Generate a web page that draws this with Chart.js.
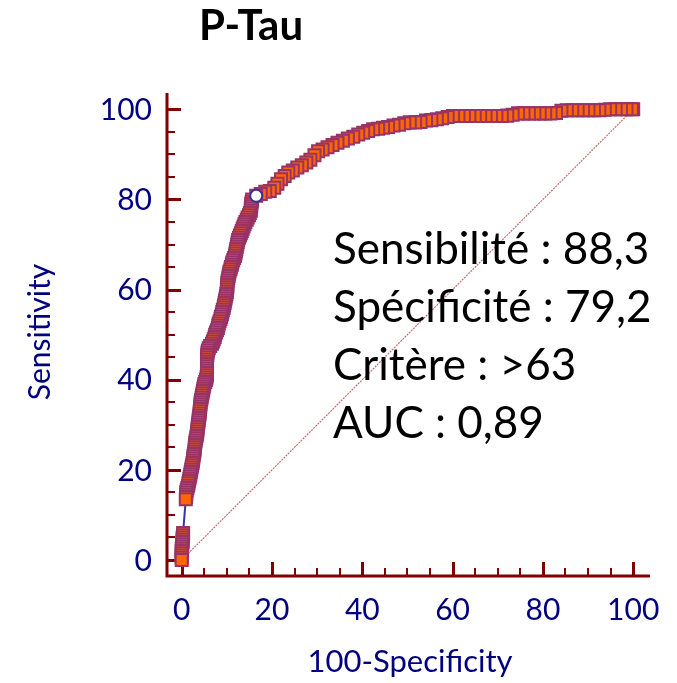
<!DOCTYPE html>
<html>
<head>
<meta charset="utf-8">
<script src="https://cdn.jsdelivr.net/npm/chart.js@4/dist/chart.umd.min.js"></script>
<style>
  html, body { margin: 0; padding: 0; background: #fff; }
  #wrap { width: 677px; height: 683px; position: relative; }
</style>
</head>
<body>
<div id="wrap"><canvas id="roc" width="677" height="683"></canvas></div>
<script>
// Courbe ROC : 100-Spécificité (x) et Sensibilité (y)
const fpr = [
    0, 0, 0, 0, 0, 0, 0.1, 0.1, 0.2, 0.2, 0.2, 0.3, 0.3,
    0.9, 0.95, 1.0, 1.0, 1.1, 1.25, 1.4, 1.5, 1.6, 1.7, 1.8, 1.9,
    2.0, 2.1, 2.2, 2.3, 2.4, 2.5, 2.55, 2.6, 2.7, 2.8, 2.85, 2.9,
    2.95, 3.0, 3.1, 3.2, 3.3, 3.4, 3.45, 3.5, 3.55, 3.6, 3.7, 3.75,
    3.8, 3.9, 3.95, 4.0, 4.05, 4.1, 4.15, 4.2, 4.3, 4.4, 4.5, 4.6,
    4.7, 4.8, 4.9, 5.0, 5.2, 5.4, 5.5, 5.6, 5.6, 5.6, 5.6, 5.6,
    5.6, 5.6, 5.6, 5.6, 5.65, 5.7, 5.8, 6.0, 6.3, 6.7, 6.9, 7.1,
    7.3, 7.4, 7.6, 7.8, 8.0, 8.1, 8.2, 8.4, 8.6, 8.7, 8.9, 9.0,
    9.1, 9.3, 9.4, 9.5, 9.6, 9.7, 9.8, 9.9, 10.0, 10.0, 10.1, 10.1,
    10.1, 10.2, 10.3, 10.4, 10.5, 10.6, 10.8, 10.9, 11.1, 11.2, 11.4, 11.6,
    11.8, 11.9, 12.0, 12.1, 12.2, 12.3, 12.4, 12.5, 12.7, 12.9, 13.1, 13.3,
    13.5, 13.7, 13.9, 14.1, 14.4, 14.6, 14.9, 15.1, 15.3, 15.3, 15.4, 15.4,
    15.5, 15.6, 16.5, 17.5, 18.5, 19.5, 20.5, 21.2,
    22.0, 22.8, 23.6, 24.6, 25.6, 26.6, 27.6, 28.5, 29.4, 30.2,
    31.2, 32.3, 33.4, 34.5, 35.7, 36.8, 38.0, 39.1, 40.2, 41.3,
    42.4, 43.5, 44.6, 45.7, 46.9, 48.1, 49.3, 50.5, 51.7, 52.9,
    54.1, 55.3, 56.5, 57.7, 58.9, 60.1, 61.3, 62.5, 63.7, 64.9,
    66.1, 67.3, 68.5, 69.7, 70.9, 72.1, 73.3, 74.5, 75.7, 76.9,
    78.1, 79.3, 80.5, 81.7, 82.9, 84.1, 85.3, 86.5, 87.7, 88.9,
    90.1, 91.3, 92.5, 93.7, 94.9, 96.1, 97.3, 98.5, 99.7, 100
];
const sens = [
    0, 0.5, 1, 1.5, 2, 2.5, 3, 3.5, 4, 4.5, 5, 5.5, 6,
    13.5, 14.0, 14.5, 15.0, 15.5, 16.0, 16.5, 17.0, 17.5, 18.0, 18.5, 19.0,
    19.5, 20.0, 20.5, 21.0, 21.5, 22.0, 22.5, 23.0, 23.5, 24.0, 24.5, 25.0,
    25.5, 26.0, 26.5, 27.0, 27.5, 28.0, 28.5, 29.0, 29.5, 30.0, 30.5, 31.0,
    31.5, 32.0, 32.5, 33.0, 33.5, 34.0, 34.5, 35.0, 35.5, 36.0, 36.5, 37.0,
    37.5, 38.0, 38.5, 39.0, 39.5, 40.0, 40.5, 41.0, 41.5, 42.0, 42.5, 43.0,
    43.5, 44.0, 44.5, 45.0, 45.5, 46.0, 46.5, 47.0, 47.5, 48.0, 48.5, 49.0,
    49.5, 50.0, 50.5, 51.0, 51.5, 52.0, 52.5, 53.0, 53.5, 54.0, 54.5, 55.0,
    55.5, 56.0, 56.5, 57.0, 57.5, 58.0, 58.5, 59.0, 59.5, 60.0, 60.5, 61.0,
    61.5, 62.0, 62.5, 63.0, 63.5, 64.0, 64.5, 65.0, 65.5, 66.0, 66.5, 67.0,
    67.5, 68.0, 68.5, 69.0, 69.5, 70.0, 70.5, 71.0, 71.5, 72.0, 72.5, 73.0,
    73.5, 74.0, 74.5, 75.0, 75.5, 76.0, 76.5, 77.0, 77.5, 78.0, 78.5, 79.0,
    79.5, 80.0, 80.8, 81.2, 81.7, 81.9, 82.6, 83.5,
    84.5, 85.2, 86.0, 86.4, 87.1, 87.6, 88.2, 88.8, 89.8, 90.7,
    91.1, 91.6, 92.1, 92.6, 93.0, 93.5, 93.9, 94.4, 94.8, 95.2,
    95.6, 95.7, 95.9, 96.1, 96.4, 96.6, 96.9, 97.1, 97.1, 97.2,
    97.5, 97.6, 97.8, 98.0, 98.3, 98.5, 98.5, 98.5, 98.5, 98.5,
    98.5, 98.5, 98.5, 98.5, 98.5, 98.6, 98.8, 99.1, 99.1, 99.1,
    99.1, 99.1, 99.1, 99.1, 99.2, 99.7, 99.8, 99.8, 99.8, 99.8,
    99.8, 99.8, 99.8, 99.9, 100, 100, 100, 100, 100, 100
];

// Point de coupure (critère) et diagonale de référence
const critX = [16.5];
const critY = [80.8];
const diagX = [0, 100];
const diagY = [0, 100];

// Graduations
const majorTicks = [0, 20, 40, 60, 80, 100];
const minorTicks = [5, 10, 15, 25, 30, 35, 45, 50, 55, 65, 70, 75, 85, 90, 95];

const titleText = 'P-Tau';
const xTitle = '100-Specificity';
const yTitle = 'Sensitivity';
const infoLines = ['Sensibilité : 88,3', 'Spécificité : 79,2', 'Critère : >63', 'AUC : 0,89'];

const axisColor = '#800000';
const labelColor = '#000080';

function toPoints(xs, ys) {
    return xs.map((x, i) => ({ x: x, y: ys[i] }));
}

// Axes dessinés à la main (graduations vers l'intérieur)
const axesPlugin = {
    id: 'axesPlugin',
    beforeDatasetsDraw(chart) {
        const ctx = chart.ctx;
        const a = chart.chartArea;
        const xs = chart.scales.x;
        const ys = chart.scales.y;
        ctx.save();
        ctx.strokeStyle = axisColor;
        ctx.lineCap = 'butt';

        ctx.lineWidth = 3;
        ctx.beginPath();
        ctx.moveTo(a.left, a.top);
        ctx.lineTo(a.left, a.bottom + 1.5);
        ctx.moveTo(a.left - 1.5, a.bottom);
        ctx.lineTo(a.right, a.bottom);
        ctx.stroke();

        ctx.lineWidth = 3;
        ctx.beginPath();
        majorTicks.forEach(v => {
            const px = Math.round(xs.getPixelForValue(v)) + 0.5;
            ctx.moveTo(px, a.bottom);
            ctx.lineTo(px, a.bottom - 14);
            const py = Math.round(ys.getPixelForValue(v)) + 0.5;
            ctx.moveTo(a.left, py);
            ctx.lineTo(a.left + 14, py);
        });
        ctx.stroke();

        ctx.lineWidth = 2;
        ctx.beginPath();
        minorTicks.forEach(v => {
            const px = Math.round(xs.getPixelForValue(v));
            ctx.moveTo(px, a.bottom);
            ctx.lineTo(px, a.bottom - 8);
            const py = Math.round(ys.getPixelForValue(v));
            ctx.moveTo(a.left, py);
            ctx.lineTo(a.left + 8, py);
        });
        ctx.stroke();
        ctx.restore();
    },
    afterDraw(chart) {
        const ctx = chart.ctx;
        const a = chart.chartArea;
        const xs = chart.scales.x;
        const ys = chart.scales.y;
        ctx.save();
        ctx.fillStyle = labelColor;
        ctx.font = '30px Lato';
        ctx.textBaseline = 'middle';

        ctx.textAlign = 'right';
        majorTicks.forEach(v => ctx.fillText(String(v), a.left - 15, ys.getPixelForValue(v) + 1));
        ctx.textAlign = 'center';
        majorTicks.forEach(v => ctx.fillText(String(v), xs.getPixelForValue(v), a.bottom + 34));

        ctx.font = '31px Lato';
        ctx.fillText(xTitle, 410, 662);
        ctx.save();
        ctx.translate(40, 332);
        ctx.rotate(-Math.PI / 2);
        ctx.font = '30px Lato';
        ctx.fillText(yTitle, 0, 0);
        ctx.restore();

        ctx.fillStyle = '#000';
        ctx.font = 'bold 42px Lato';
        ctx.fillText(titleText, 251, 26);

        ctx.textAlign = 'left';
        ctx.font = '44px Lato';
        infoLines.forEach((t, i) => ctx.fillText(t, 333, 250 + i * 58));
        ctx.restore();
    }
};

const ctx = document.getElementById('roc').getContext('2d');
new Chart(ctx, {
    type: 'scatter',
    data: {
        datasets: [
            {
                label: 'critere',
                data: toPoints(critX, critY),
                pointStyle: 'circle',
                pointRadius: 6,
                pointBackgroundColor: '#ffffff',
                pointBorderColor: '#333399',
                pointBorderWidth: 2,
                showLine: false,
                order: 0
            },
            {
                // dessinée du haut vers le bas, comme dans l'original
                label: 'ROC',
                data: toPoints(fpr, sens).reverse(),
                showLine: true,
                borderColor: '#3333aa',
                borderWidth: 2,
                pointStyle: 'rect',
                pointRadius: 8.5,
                pointBackgroundColor: '#ff6600',
                pointBorderColor: '#993366',
                pointBorderWidth: 2,
                order: 1
            },
            {
                label: 'diag',
                data: toPoints(diagX, diagY),
                showLine: true,
                borderColor: '#c07070',
                borderWidth: 1.2,
                borderDash: [2, 1],
                pointRadius: 0,
                order: 2
            }
        ]
    },
    options: {
        responsive: false,
        animation: false,
        clip: false,
        layout: { padding: { left: 167, right: 27, top: 93, bottom: 107 } },
        plugins: {
            legend: { display: false },
            tooltip: { enabled: false }
        },
        scales: {
            x: { type: 'linear', display: false, min: -3.26, max: 103.72 },
            y: { type: 'linear', display: false, min: -3.55, max: 103.62 }
        }
    },
    plugins: [axesPlugin]
});
</script>
</body>
</html>
